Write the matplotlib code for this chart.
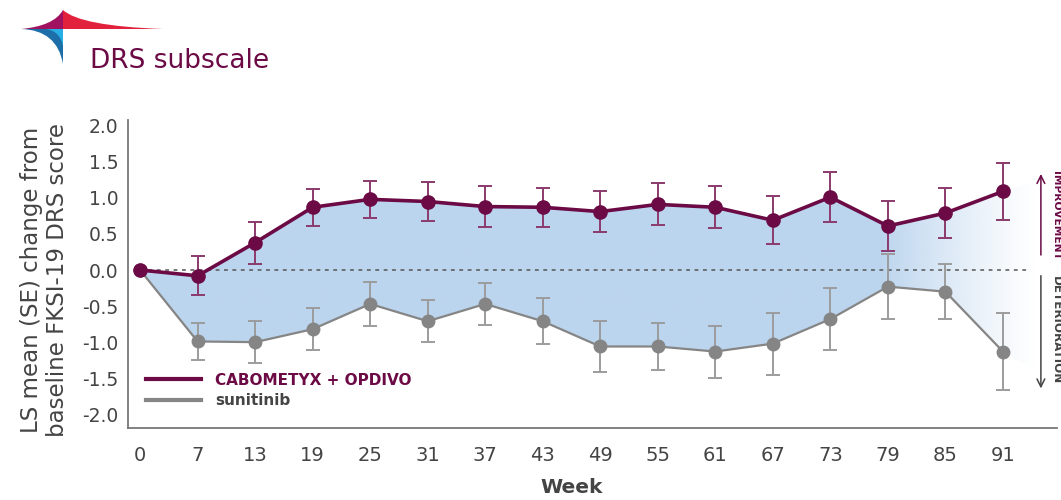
import numpy as np
import matplotlib
matplotlib.use("Agg")
import matplotlib.pyplot as plt
from matplotlib.patches import Polygon, PathPatch
from matplotlib.path import Path
from matplotlib.lines import Line2D

plt.rcParams['font.family'] = ['DejaVu Sans']

# data
weeks = [0, 7, 13, 19, 25, 31, 37, 43, 49, 55, 61, 67, 73, 79, 85, 91]
cabo_mean = [0.0, -0.08, 0.38, 0.87, 0.98, 0.95, 0.88, 0.87, 0.81, 0.91, 0.87, 0.69, 1.01, 0.61, 0.79, 1.09]
cabo_se = [0.0, 0.27, 0.29, 0.26, 0.26, 0.27, 0.28, 0.27, 0.28, 0.29, 0.29, 0.33, 0.35, 0.35, 0.35, 0.39]
suni_mean = [0.0, -0.99, -1.00, -0.82, -0.47, -0.71, -0.47, -0.71, -1.06, -1.06, -1.13, -1.02, -0.68, -0.23, -0.30, -1.13]
suni_se = [0.0, 0.26, 0.29, 0.29, 0.30, 0.29, 0.29, 0.32, 0.35, 0.33, 0.36, 0.43, 0.43, 0.45, 0.38, 0.54]
yticks = [-2.0, -1.5, -1.0, -0.5, 0.0, 0.5, 1.0, 1.5, 2.0]
labels = ["CABOMETYX + OPDIVO", "sunitinib"]

purple = '#6b0a45'
purple_err = '#8a3a6c'
grey = '#858585'
grey_err = '#9c9c9c'
fill_col = np.array([0xbc, 0xd5, 0xee]) / 255.0
txt = '#444444'

fig = plt.figure(figsize=(10.61, 5), dpi=100)

# ---- logo + title (pixel coords) ----
bg = fig.add_axes([0, 0, 1, 1])
bg.set_xlim(0, 1061)
bg.set_ylim(500, 0)
bg.axis('off')
C = Path.CURVE3
red = Path([(63, 10), (80, 26), (163, 29), (63, 29), (63, 10)],
           [Path.MOVETO, C, C, Path.LINETO, Path.CLOSEPOLY])
pur = Path([(63, 10), (54, 26), (21, 29), (63, 29), (63, 10)],
           [Path.MOVETO, C, C, Path.LINETO, Path.CLOSEPOLY])
blu = Path([(21, 29), (57, 30), (63, 64), (63, 29), (21, 29)],
           [Path.MOVETO, C, C, Path.LINETO, Path.CLOSEPOLY])
bg.add_patch(PathPatch(red, fc='#e2223c', ec='none'))
bg.add_patch(PathPatch(pur, fc='#a0125f', ec='none'))
bg.add_patch(PathPatch(blu, fc='#1d6fa9', ec='none'))
cyan = Path([(46, 29), (60, 31), (63, 46), (63, 29), (46, 29)],
            [Path.MOVETO, C, C, Path.LINETO, Path.CLOSEPOLY])
bg.add_patch(PathPatch(cyan, fc='#27aee6', ec='none'))
bg.text(90, 61, "DRS subscale", color=purple, fontsize=19, va='center', ha='left')

# ---- main chart ----
ax = fig.add_axes([128 / 1061, 1 - 428 / 500, (1057 - 128) / 1061, (428 - 120) / 500])
x = np.arange(len(weeks))

# shaded band with fade to the right
last = len(weeks) - 1
ext = last + 0.55
verts = list(zip(x, cabo_mean)) + [(ext, cabo_mean[-1] + 0.13), (ext, suni_mean[-1] - 0.27)] \
    + list(zip(x[::-1], suni_mean[::-1]))
band = Polygon(verts, closed=True, fc='none', ec='none')
ax.add_patch(band)
xs = np.linspace(0, ext, 400)
alpha = np.clip((ext + 0.05 - xs) / (ext + 0.05 - 12.9), 0, 1) ** 1.2
img = np.zeros((2, len(xs), 4))
img[..., :3] = fill_col
img[..., 3] = alpha
im = ax.imshow(img, extent=[0, ext, -2.0, 1.6], aspect='auto', origin='lower',
               interpolation='bilinear', zorder=1)
im.set_clip_path(band)

# zero reference line
ax.plot([0, last + 0.47], [0, 0], ls=(0, (2.5, 3)), color='#555555', lw=1.1, zorder=2)

# sunitinib
ax.errorbar(x[1:], suni_mean[1:], yerr=suni_se[1:], fmt='none', ecolor=grey_err,
            elinewidth=1.4, capsize=5, capthick=1.4, zorder=3)
ax.plot(x, suni_mean, '-o', color=grey, lw=1.6, ms=9, zorder=4)
# cabometyx + opdivo
ax.errorbar(x[1:], cabo_mean[1:], yerr=cabo_se[1:], fmt='none', ecolor=purple_err,
            elinewidth=1.4, capsize=5, capthick=1.4, zorder=5)
ax.plot(x, cabo_mean, '-o', color=purple, lw=2.6, ms=9.5, zorder=6)

ax.set_xlim(-0.21, 15.94)
ax.set_ylim(-2.19, 2.08)
ax.set_xticks(x)
ax.set_xticklabels([str(w) for w in weeks], fontsize=14, color=txt)
ax.set_yticks(yticks)
ax.set_yticklabels([f"{v:.1f}" for v in yticks], fontsize=13.5, color=txt)
ax.tick_params(length=0)
ax.tick_params(axis='y', pad=7)
ax.tick_params(axis='x', pad=13)
for s in ['top', 'right']:
    ax.spines[s].set_visible(False)
for s in ['left', 'bottom']:
    ax.spines[s].set_color('#777777')
    ax.spines[s].set_linewidth(1.3)

ax.set_ylabel("LS mean (SE) change from\nbaseline FKSI-19 DRS score", fontsize=16.5,
              color=txt, linespacing=1.12)
ax.yaxis.set_label_coords(-0.064, 0.48)
ax.set_xlabel("Week", fontsize=14.5, color=txt, fontweight='bold')
ax.xaxis.set_label_coords(0.477, -0.163)

# right-hand direction arrows
ax.annotate('', xy=(15.66, 1.37), xytext=(15.66, 0.17),
            arrowprops=dict(arrowstyle='->', color=purple, lw=1.1, mutation_scale=14),
            annotation_clip=False)
ax.annotate('', xy=(15.66, -1.68), xytext=(15.66, -0.04),
            arrowprops=dict(arrowstyle='->', color='#444444', lw=1.1, mutation_scale=14),
            annotation_clip=False)
ax.text(15.93, 0.76, "IMPROVEMENT", rotation=-90, color=purple, fontsize=7.7,
        fontweight='bold', ha='center', va='center', clip_on=False)
ax.text(15.93, -0.83, "DETERIORATION", rotation=-90, color='#444444', fontsize=8.6,
        fontweight='bold', ha='center', va='center', clip_on=False)

# legend
handles = [Line2D([], [], color=purple, lw=3), Line2D([], [], color=grey, lw=3)]
leg = ax.legend(handles, labels, loc='lower left', bbox_to_anchor=(0.005, 0.02),
                frameon=False, handlelength=3.6, handletextpad=0.9, labelspacing=0.35,
                prop={'size': 11, 'weight': 'bold'})
leg.get_texts()[0].set_color(purple)
leg.get_texts()[1].set_color(txt)

fig.savefig('out.png', dpi=100)
